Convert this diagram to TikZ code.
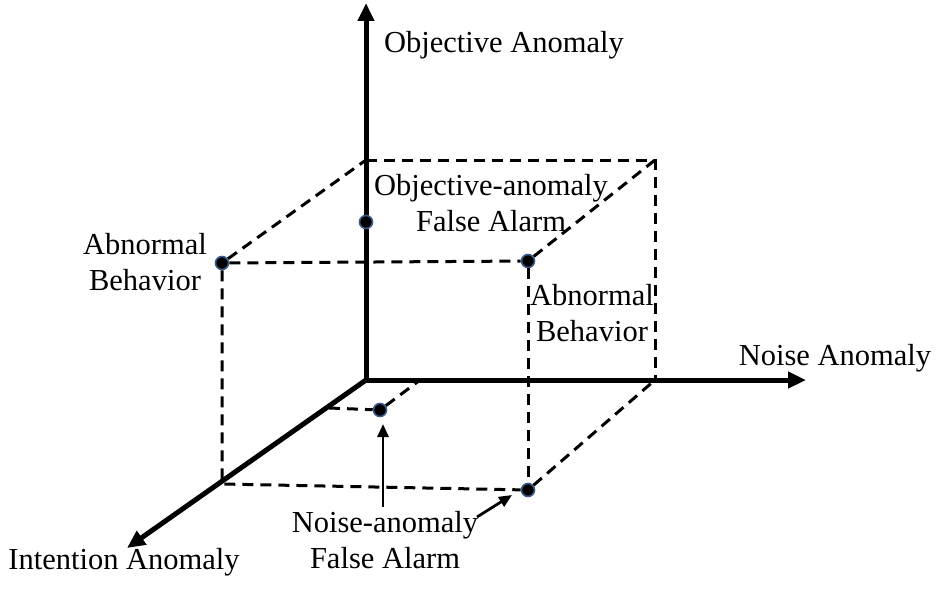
\documentclass[tikz,border=0pt]{standalone}
\usepackage{fontspec}
\setmainfont{Liberation Serif}
\usetikzlibrary{arrows.meta}
\definecolor{dotrim}{HTML}{3A5A8C}

\begin{document}
\begin{tikzpicture}[x=1pt,y=-1pt,
  axis/.style={line width=5pt,-{Triangle[length=18pt,width=16pt]}},
  edge/.style={line width=3pt,dash pattern=on 11pt off 7pt},
  pointer/.style={line width=2.8pt,-{Triangle[length=13pt,width=11pt]}},
  dot/.style={circle,fill=black,draw=dotrim,line width=1.6pt,inner sep=0pt,minimum size=13pt},
  lbl/.style={font=\fontsize{30.5}{36.5}\selectfont,align=center,inner sep=0pt}]
\useasboundingbox (0,0) rectangle (942,594);
% axes
\coordinate (O) at (366,380);
\coordinate (topend) at (366,3);
\coordinate (rightend) at (806,380);
\coordinate (leftend) at (127,548);
\draw[axis] (O)--(topend);
\draw[axis] (O)--(rightend);
\draw[axis] (O)--(leftend);
% box corners
\coordinate (tb) at (366,160);
\coordinate (tr) at (655,160);
\coordinate (br) at (655,380);
\coordinate (bl) at (222,484);
\coordinate (il) at (329,408);
\coordinate (ir) at (420,380);
\node[dot] (pz) at (366,222) {};
\node[dot] (pl) at (222,263) {};
\node[dot] (pr) at (528,261) {};
\node[dot] (pi) at (380,410) {};
\node[dot] (pb) at (528,490) {};
\draw[edge] (pl)--(tb);
\draw[edge] (tb)--(tr)--(br);
\draw[edge] (pl)--(pr)--(tr);
\draw[edge] (pl)--(bl)--(pb)--(br);
\draw[edge] (pr)--(pb);
\draw[edge] (il)--(pi)--(ir);
% labels
\node[lbl] (zlab) at (504,45) {Objective Anomaly};
\node[lbl] (xlab) at (835,358) {Noise Anomaly};
\node[lbl] (ylab) at (124,562) {Intention Anomaly};
\node[lbl] (zfa) at (491,203) {Objective-anomaly\\False Alarm};
\node[lbl] (abl) at (145,262) {Abnormal\\Behavior};
\node[lbl] (abr) at (592,313) {Abnormal\\Behavior};
\node[lbl] (nfa) at (385,540) {Noise-anomaly\\False Alarm};
\coordinate (nfatop) at (383,507);
\coordinate (nfahead) at (383,424);
\coordinate (nfaside) at (477,517);
\coordinate (nfasidehead) at (512,495);
\draw[pointer] (nfatop)--(nfahead);
\draw[pointer] (nfaside)--(nfasidehead);
\end{tikzpicture}
\end{document}
